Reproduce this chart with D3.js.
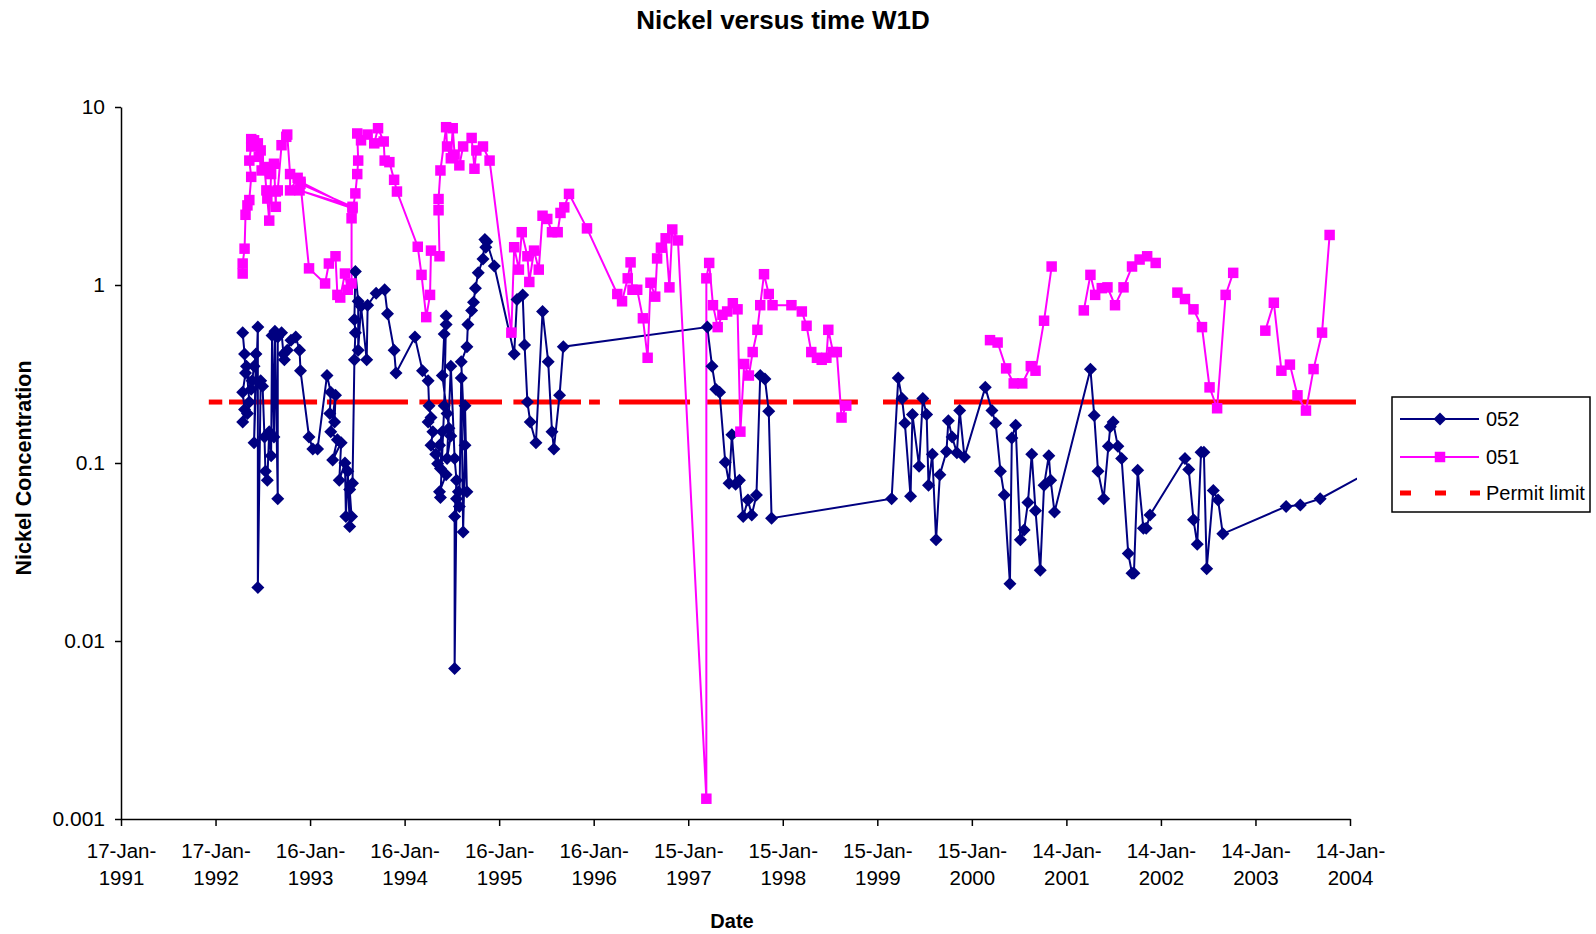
<!DOCTYPE html>
<html>
<head>
<meta charset="utf-8">
<script src="https://cdnjs.cloudflare.com/ajax/libs/d3/7.8.5/d3.min.js"></script>
<style>
  body { margin: 0; background: #fff; }
  svg { display: block; }
  text { font-family: Arial, "Liberation Sans", sans-serif; fill: #000; }
</style>
</head>
<body>
<div id="chart"></div>
<script>
// x axis ticks (Excel steps of 365 days)
var tickDates = ["17-Jan-1991","17-Jan-1992","16-Jan-1993","16-Jan-1994","16-Jan-1995","16-Jan-1996",
  "15-Jan-1997","15-Jan-1998","15-Jan-1999","15-Jan-2000","14-Jan-2001","14-Jan-2002","14-Jan-2003","14-Jan-2004"];
var yTicks = [0.001, 0.01, 0.1, 1, 10];

// well 052 : sample time (decimal year) and nickel
var t052 = [
  1992.33,1992.35,1992.36,1992.33,1992.35,1992.33,1992.38,1992.40,1992.37,1992.42,
  1992.43,1992.45,1992.47,1992.45,1992.49,1992.49,1992.52,1992.54,1992.56,1992.57,
  1992.59,1992.61,1992.63,1992.64,1992.66,1992.67,1992.70,1992.70,1992.74,1992.76,
  1992.77,1992.80,1992.84,1992.89,1992.93,1992.94,1993.03,1993.07,1993.12,1993.22,
  1993.26,1993.25,1993.30,1993.31,1993.26,1993.33,1993.28,1993.37,1993.35,1993.41,
  1993.42,1993.44,1993.46,1993.48,1993.46,1993.49,1993.51,1993.52,1993.51,1993.52,
  1993.55,1993.55,1993.58,1993.64,1993.65,1993.74,1993.83,1993.86,1993.93,1993.95,
  1994.15,1994.23,1994.29,1994.30,1994.32,1994.29,1994.34,1994.32,1994.37,1994.39,
  1994.41,1994.44,1994.42,1994.48,1994.41,1994.42,1994.46,1994.48,1994.48,1994.46,
  1994.44,1994.49,1994.51,1994.53,1994.49,1994.53,1994.57,1994.59,1994.57,1994.57,
  1994.59,1994.61,1994.62,1994.64,1994.66,1994.68,1994.68,1994.70,1994.64,1994.70,
  1994.71,1994.75,1994.77,1994.79,1994.82,1994.87,1994.89,1994.90,1994.91,1994.99,
  1995.20,1995.23,1995.29,1995.31,1995.34,1995.37,1995.43,1995.50,1995.56,1995.60,
  1995.62,1995.68,1995.72,1997.24,1997.29,1997.33,1997.37,1997.43,1997.47,1997.50,
  1997.54,1997.58,1997.62,1997.67,1997.71,1997.76,1997.80,1997.85,1997.89,1997.92,
  1999.19,1999.26,1999.30,1999.33,1999.39,1999.41,1999.48,1999.52,1999.56,1999.58,
  1999.62,1999.66,1999.70,1999.77,1999.79,1999.83,1999.88,1999.91,1999.96,2000.18,
  2000.25,2000.29,2000.34,2000.38,2000.44,2000.46,2000.50,2000.55,2000.59,2000.63,
  2000.67,2000.71,2000.76,2000.80,2000.85,2000.87,2000.91,2001.29,2001.33,2001.37,
  2001.43,2001.48,2001.50,2001.53,2001.58,2001.62,2001.69,2001.73,2001.75,2001.79,
  2001.85,2001.88,2001.92,2002.29,2002.33,2002.38,2002.42,2002.46,2002.49,2002.52,
  2002.59,2002.64,2002.69,2003.36,2003.51,2003.72,2004.40];
var ni052 = [
  0.54,0.41,0.32,0.25,0.20,0.17,0.19,0.22,0.35,0.26,
  0.29,0.35,0.41,0.13,0.58,0.02,0.29,0.27,0.14,0.09,
  0.08,0.15,0.11,0.52,0.14,0.55,0.063,0.51,0.54,0.41,
  0.38,0.43,0.49,0.51,0.43,0.33,0.14,0.12,0.12,0.31,
  0.25,0.19,0.17,0.24,0.15,0.135,0.104,0.13,0.08,0.10,
  0.05,0.09,0.044,0.05,0.071,0.077,0.38,0.54,0.64,1.19,
  0.81,0.43,0.76,0.38,0.77,0.90,0.94,0.69,0.43,0.32,
  0.51,0.33,0.29,0.21,0.18,0.17,0.15,0.126,0.112,0.099,
  0.126,0.15,0.093,0.086,0.069,0.064,0.21,0.67,0.60,0.53,
  0.31,0.19,0.157,0.142,0.106,0.35,0.106,0.08,0.05,0.007,
  0.063,0.069,0.057,0.30,0.041,0.126,0.21,0.069,0.37,0.45,
  0.60,0.72,0.80,0.96,1.17,1.40,1.80,1.63,1.75,1.28,
  0.41,0.83,0.88,0.46,0.22,0.17,0.13,0.71,0.37,0.15,
  0.12,0.24,0.45,0.58,0.35,0.26,0.25,0.101,0.077,0.144,
  0.076,0.08,0.05,0.062,0.051,0.066,0.31,0.296,0.195,0.049,
  0.063,0.30,0.23,0.167,0.065,0.187,0.096,0.23,0.187,0.075,
  0.112,0.037,0.086,0.116,0.173,0.14,0.114,0.197,0.108,0.266,
  0.197,0.167,0.09,0.066,0.021,0.138,0.163,0.037,0.042,0.06,
  0.112,0.054,0.025,0.075,0.11,0.08,0.053,0.336,0.185,0.09,
  0.063,0.124,0.16,0.17,0.124,0.106,0.031,0.024,0.024,0.091,
  0.043,0.043,0.051,0.106,0.092,0.048,0.035,0.115,0.115,0.0255,
  0.07,0.062,0.04,0.057,0.058,0.063,0.099];

// well 051 (null = no sample, line broken)
var t051 = [
  1992.33,1992.33,1992.35,1992.36,1992.38,1992.40,1992.42,1992.40,1992.42,1992.42,
  1992.45,1992.49,1992.50,1992.52,1992.53,1992.56,1992.58,1992.59,1992.61,1992.63,
  1992.66,1992.68,1992.68,1992.70,1992.74,1992.79,1992.80,1992.83,1992.83,1992.91,
  1992.94,1993.49,1992.93,1993.49,1992.94,1993.03,1993.20,1993.24,1993.31,1993.33,
  1993.36,1993.41,1993.44,1993.48,1993.48,1993.52,1993.54,1993.55,1993.54,1993.58,
  1993.65,1993.72,1993.76,1993.82,1993.83,1993.88,1993.93,1993.96,1994.18,1994.22,
  1994.27,1994.31,1994.32,1994.41,1994.40,1994.40,1994.42,1994.48,1994.49,1994.53,
  1994.55,1994.57,1994.62,1994.66,1994.75,1994.78,1994.80,1994.87,1994.94,1995.17,
  1995.20,1995.25,1995.28,1995.34,1995.36,1995.41,1995.46,1995.50,1995.55,1995.60,
  1995.66,1995.69,1995.73,1995.78,1995.97,1996.29,1996.34,1996.40,1996.43,1996.45,
  1996.50,1996.56,1996.61,1996.64,1996.69,1996.71,1996.75,1996.80,1996.84,1996.87,
  1996.93,1997.23,1997.23,1997.26,1997.30,1997.35,1997.40,1997.45,1997.51,1997.56,
  1997.59,1997.63,1997.68,1997.72,1997.77,1997.80,1997.84,1997.89,1997.93,1998.13,
  1998.24,1998.29,1998.34,1998.40,1998.45,1998.50,1998.52,1998.57,1998.61,1998.66,
  1998.71,null,2000.23,2000.31,2000.40,2000.48,2000.57,2000.66,2000.71,2000.80,
  2000.88,null,2001.22,2001.29,2001.34,2001.41,2001.47,2001.55,2001.64,2001.73,
  2001.81,2001.89,2001.98,null,2002.21,2002.29,2002.38,2002.47,2002.55,2002.63,
  2002.72,2002.80,null,2003.14,2003.23,2003.31,2003.40,2003.48,2003.57,2003.65,
  2003.74,2003.82];
var ni051 = [
  1.16,1.32,1.6,2.48,2.8,3.0,4.05,5.0,6.0,6.6,
  6.5,6.25,5.25,5.7,4.4,4.6,3.4,3.06,2.3,4.2,
  4.8,2.75,3.35,3.4,6.1,6.8,7.0,4.2,3.4,4.0,
  3.8,2.7,3.4,2.75,3.7,1.24,1.02,1.32,1.45,0.88,
  0.85,1.16,0.94,1.02,2.37,3.27,4.2,5.0,7.1,6.5,
  7.0,6.25,7.6,6.4,5.0,4.9,3.9,3.35,1.64,1.14,
  0.66,0.88,1.56,1.45,2.63,3.04,4.4,7.7,6.0,5.15,
  7.6,5.4,4.7,6.0,6.7,4.5,5.7,6.0,5.0,0.54,
  1.63,1.22,1.98,1.45,1.04,1.56,1.22,2.45,2.35,1.98,
  1.98,2.54,2.73,3.25,2.08,0.89,0.81,1.09,1.34,0.94,
  0.94,0.65,0.39,1.03,0.86,1.41,1.62,1.83,0.97,2.05,
  1.78,0.0013,1.09,1.33,0.77,0.58,0.68,0.71,0.79,0.73,
  0.15,0.36,0.31,0.42,0.56,0.77,1.15,0.89,0.77,0.77,
  0.71,0.59,0.42,0.39,0.38,0.39,0.56,0.42,0.42,0.18,
  0.21,null,0.49,0.475,0.34,0.28,0.28,0.35,0.33,0.63,
  1.27,null,0.72,1.14,0.88,0.96,0.97,0.77,0.97,1.27,
  1.39,1.45,1.33,null,0.906,0.834,0.73,0.58,0.266,0.203,
  0.88,1.17,null,0.554,0.795,0.33,0.357,0.24,0.197,0.337,
  0.54,1.91];

// permit limit, drawn where the dashed series has segments
var permitLimit = 0.22;
var permitRuns = [
  ["1991-12-22","1992-02-12"], ["1992-03-09","1993-02-12"], ["1993-03-22","1994-01-29"],
  ["1994-03-14","1995-01-27"], ["1995-03-12","1995-11-28"], ["1995-12-29","1996-02-09"],
  ["1996-04-23","1997-01-22"], ["1997-03-29","1998-01-31"], ["1998-02-24","1998-11-01"],
  ["1999-02-06","1999-08-10"], ["1999-11-07","2004-02-06"]];

var width = 1596, height = 934;
var plotLeft = 121, plotRight = 1350, plotTop = 107, plotBottom = 819;

var parseTick = d3.timeParse("%d-%b-%Y");
var parseDay = d3.timeParse("%Y-%m-%d");

function yearToDate(v) {
  var yr = Math.floor(v);
  var a = new Date(yr, 0, 1), b = new Date(yr + 1, 0, 1);
  return new Date(+a + (v - yr) * (b - a));
}

var svg = d3.select("#chart").append("svg")
  .attr("width", width)
  .attr("height", height);

var x = d3.scaleTime()
  .domain([parseTick(tickDates[0]), parseTick(tickDates[tickDates.length - 1])])
  .range([plotLeft, plotRight]);
var y = d3.scaleLog().domain([0.001, 10]).range([plotBottom, plotTop]);

// title
svg.append("text")
  .attr("x", 783).attr("y", 29)
  .attr("text-anchor", "middle")
  .style("font-size", "26px").style("font-weight", "bold")
  .text("Nickel versus time W1D");

// axes
var xAxis = svg.append("g")
  .attr("transform", "translate(0," + plotBottom + ")")
  .call(d3.axisBottom(x).tickValues(tickDates.map(parseTick)).tickSize(7).tickSizeOuter(0).tickFormat(""));
xAxis.selectAll(".tick").each(function(d, i) {
  var parts = tickDates[i].split("-");
  var g = d3.select(this);
  g.append("text").attr("y", 39).attr("text-anchor", "middle")
    .style("font-size", "20.5px").text(parts[0] + "-" + parts[1] + "-");
  g.append("text").attr("y", 66).attr("text-anchor", "middle")
    .style("font-size", "20.5px").text(parts[2]);
});

var yAxis = svg.append("g")
  .attr("transform", "translate(" + plotLeft + ",0)")
  .call(d3.axisLeft(y).tickValues(yTicks).tickSize(6).tickSizeOuter(0).tickPadding(10)
    .tickFormat(function(d) { return String(d); }));
yAxis.selectAll(".tick text").style("font-size", "21px").attr("font-family", null);

svg.selectAll(".domain, .tick line").attr("stroke", "#000").attr("stroke-width", 1.5);

svg.append("text")
  .attr("transform", "translate(31,468) rotate(-90)")
  .attr("text-anchor", "middle")
  .style("font-size", "21.5px").style("font-weight", "bold")
  .text("Nickel Concentration");

svg.append("text")
  .attr("x", 732).attr("y", 928)
  .attr("text-anchor", "middle")
  .style("font-size", "20px").style("font-weight", "bold")
  .text("Date");

// series
svg.append("clipPath").attr("id", "plotclip")
  .append("rect").attr("x", plotLeft).attr("y", 0).attr("width", 1357 - plotLeft).attr("height", height);

var plot = svg.append("g").attr("clip-path", "url(#plotclip)");

var data052 = t052.map(function(t, i) { return { date: yearToDate(t), value: ni052[i] }; });
var data051 = t051.map(function(t, i) {
  return t == null ? null : { date: yearToDate(t), value: ni051[i] };
});

var line = d3.line()
  .defined(function(d) { return d != null; })
  .x(function(d) { return x(d.date); })
  .y(function(d) { return y(d.value); });

plot.selectAll(".permit")
  .data(permitRuns)
  .enter().append("line")
  .attr("class", "permit")
  .attr("x1", function(d) { return x(parseDay(d[0])); })
  .attr("x2", function(d) { return x(parseDay(d[1])); })
  .attr("y1", y(permitLimit))
  .attr("y2", y(permitLimit))
  .attr("stroke", "#ff0000")
  .attr("stroke-width", 5);

plot.append("path").datum(data052)
  .attr("d", line)
  .attr("fill", "none").attr("stroke", "#000080").attr("stroke-width", 2);

plot.append("path").datum(data051)
  .attr("d", line)
  .attr("fill", "none").attr("stroke", "#ff00ff").attr("stroke-width", 2);

var diamond = "M0,-6.5L6.5,0L0,6.5L-6.5,0Z";
var square = d3.symbol().type(d3.symbolSquare).size(110)();

plot.selectAll(".m052")
  .data(data052)
  .enter().append("path")
  .attr("class", "m052")
  .attr("transform", function(d) { return "translate(" + x(d.date) + "," + y(d.value) + ")"; })
  .attr("d", diamond)
  .attr("fill", "#000080");

plot.selectAll(".m051")
  .data(data051.filter(function(d) { return d != null; }))
  .enter().append("path")
  .attr("class", "m051")
  .attr("transform", function(d) { return "translate(" + x(d.date) + "," + y(d.value) + ")"; })
  .attr("d", square)
  .attr("fill", "#ff00ff");

// legend
var legend = svg.append("g");
legend.append("rect")
  .attr("x", 1392).attr("y", 397).attr("width", 198).attr("height", 115)
  .attr("fill", "#fff").attr("stroke", "#000").attr("stroke-width", 1.5);

var items = [
  { name: "052", color: "#000080", shape: diamond, y: 419 },
  { name: "051", color: "#ff00ff", shape: square, y: 457 },
  { name: "Permit limit", color: "#ff0000", shape: null, y: 493 }
];
items.forEach(function(it) {
  if (it.shape) {
    legend.append("line").attr("x1", 1400).attr("x2", 1479).attr("y1", it.y).attr("y2", it.y)
      .attr("stroke", it.color).attr("stroke-width", 2);
    legend.append("path").attr("transform", "translate(1440," + it.y + ")")
      .attr("d", it.shape).attr("fill", it.color);
  } else {
    legend.append("line").attr("x1", 1400).attr("x2", 1480).attr("y1", it.y).attr("y2", it.y)
      .attr("stroke", it.color).attr("stroke-width", 5).attr("stroke-dasharray", "11,24");
  }
  legend.append("text").attr("x", 1486).attr("y", it.y + 7)
    .style("font-size", "20px").text(it.name);
});
</script>
</body>
</html>
